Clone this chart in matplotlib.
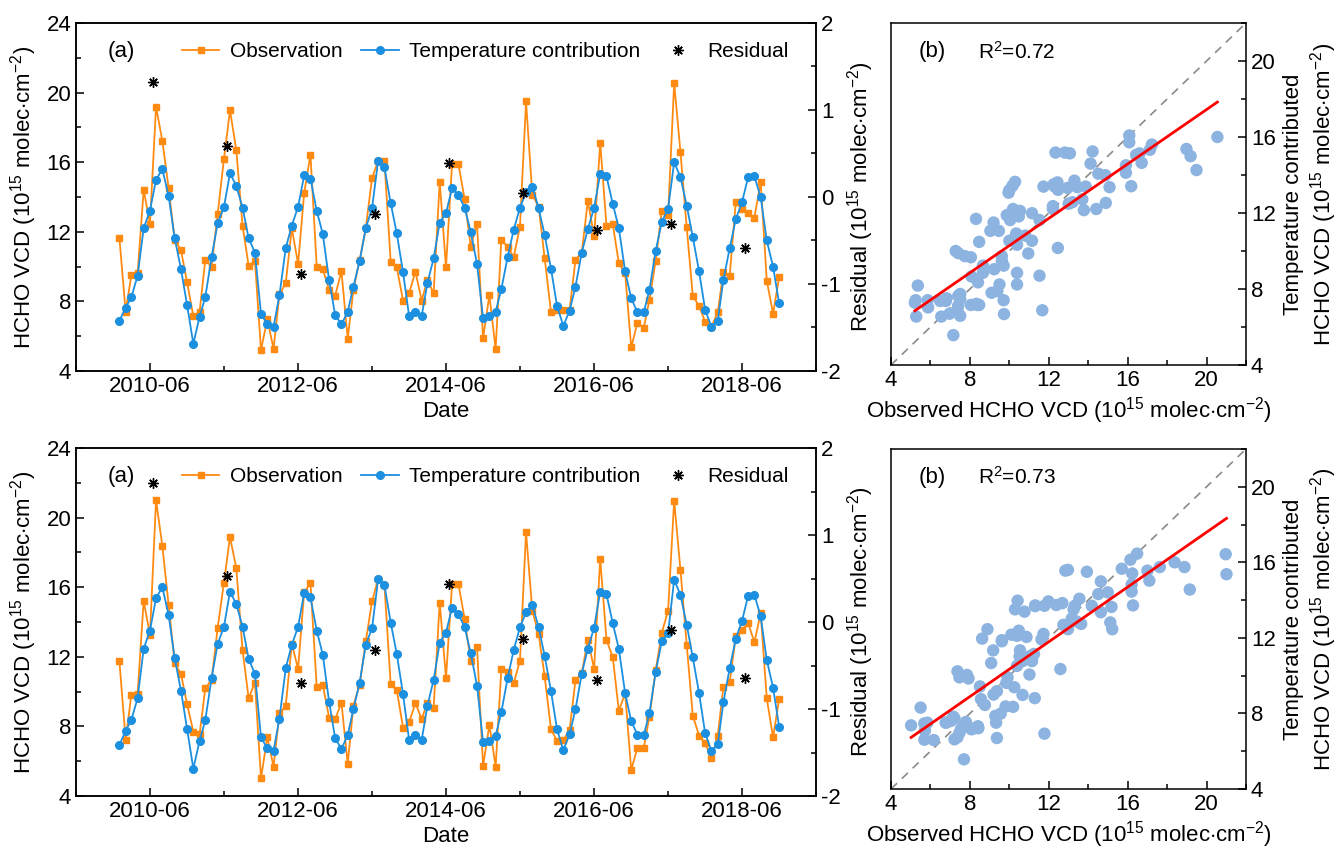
import numpy as np
import pandas as pd
import matplotlib
matplotlib.use('Agg')
import matplotlib.pyplot as plt
import matplotlib.dates as mdates
from matplotlib.ticker import MultipleLocator
from matplotlib.lines import Line2D

plt.rcParams['font.family'] = ['Liberation Sans', 'DejaVu Sans']
plt.rcParams['mathtext.fontset'] = 'custom'
plt.rcParams['mathtext.rm'] = 'Liberation Sans'
plt.rcParams['mathtext.it'] = 'Liberation Sans:italic'
plt.rcParams['axes.unicode_minus'] = False
plt.rcParams['font.size'] = 15
plt.rcParams['xtick.labelsize'] = 16
plt.rcParams['ytick.labelsize'] = 16
plt.rcParams['axes.labelsize'] = 16
plt.rcParams['axes.linewidth'] = 1.1

# monthly HCHO VCD, 2010-01 .. 2018-12 (10^15 molec/cm2)
months = pd.date_range('2010-01-01', periods=108, freq='MS')
res_dates = pd.to_datetime(['%d-06-15' % y for y in range(2010, 2019)])

obs_top = [11.67, 7.41, 9.50, 9.62, 14.41, 12.47, 19.19, 17.23, 14.51, 11.53, 10.96, 9.10,
           7.16, 7.41, 10.39, 10.00, 13.01, 16.18, 18.98, 16.71, 12.36, 10.04, 10.33, 5.21,
           6.97, 5.28, 8.41, 9.04, 12.21, 10.16, 14.22, 16.43, 10.00, 9.87, 8.66, 8.33,
           9.73, 5.86, 8.66, 10.39, 12.21, 15.08, 16.08, 16.08, 10.29, 9.96, 8.05, 8.47,
           9.71, 8.05, 9.23, 8.47, 14.89, 9.96, 15.91, 15.91, 13.87, 11.15, 12.46, 5.88,
           8.37, 5.25, 11.53, 11.15, 10.54, 12.30, 19.49, 14.12, 13.45, 10.48, 7.41, 7.51,
           7.51, 7.51, 10.39, 10.81, 13.78, 11.73, 17.13, 12.34, 12.44, 10.19, 9.62, 5.36,
           6.78, 6.49, 8.08, 10.35, 13.20, 12.95, 20.55, 16.60, 12.25, 8.31, 7.74, 6.82,
           6.55, 7.37, 9.71, 9.47, 13.70, 13.30, 13.07, 12.82, 14.87, 9.20, 7.28, 9.39]
temp_top = [6.88, 7.64, 8.24, 9.47, 12.21, 13.22, 14.99, 15.60, 14.07, 11.63, 9.87, 7.80,
            5.57, 7.13, 8.24, 10.54, 12.49, 13.41, 15.37, 14.64, 13.39, 11.63, 10.81, 7.28,
            6.70, 6.55, 8.35, 11.06, 12.36, 13.43, 15.24, 15.06, 13.20, 11.88, 9.23, 7.22,
            6.68, 7.41, 8.85, 10.33, 12.21, 13.36, 16.08, 15.72, 13.64, 11.92, 9.67, 7.16,
            7.41, 7.16, 9.04, 10.48, 12.53, 13.07, 14.51, 14.12, 13.39, 11.99, 10.16, 7.03,
            7.16, 7.41, 8.70, 10.54, 12.11, 13.39, 14.26, 14.60, 13.36, 11.82, 9.89, 7.74,
            6.59, 7.47, 8.85, 10.81, 12.15, 13.39, 15.33, 15.18, 13.61, 12.21, 9.73, 8.18,
            7.37, 7.37, 8.66, 10.92, 12.57, 13.32, 16.00, 15.14, 13.51, 11.69, 9.73, 7.51,
            6.55, 6.89, 9.23, 11.06, 12.72, 13.70, 15.14, 15.18, 13.99, 11.50, 10.00, 7.89]
res_top = [1.32, 0.59, -0.89, -0.20, 0.39, 0.05, -0.38, -0.31, -0.59]

obs_bot = [11.78, 7.22, 9.81, 9.85, 15.22, 13.26, 21.01, 18.38, 14.99, 11.63, 11.02, 9.29,
           7.70, 7.55, 10.19, 10.67, 13.64, 16.27, 18.88, 17.10, 12.38, 9.62, 10.52, 5.02,
           7.37, 5.69, 8.76, 9.18, 12.74, 11.31, 15.70, 16.23, 10.29, 10.39, 8.51, 8.41,
           9.37, 5.84, 9.20, 10.39, 12.88, 15.18, 16.48, 16.14, 10.42, 10.10, 7.93, 8.24,
           9.33, 8.43, 9.37, 9.08, 15.12, 10.77, 16.20, 16.20, 14.18, 11.73, 12.59, 5.72,
           8.08, 5.69, 11.29, 11.15, 10.48, 11.78, 19.15, 14.64, 13.32, 10.87, 7.85, 7.16,
           7.22, 7.80, 10.67, 11.06, 12.97, 11.31, 17.63, 12.97, 11.98, 8.89, 9.91, 5.50,
           6.78, 6.78, 8.56, 11.25, 13.39, 14.64, 20.97, 17.00, 12.69, 8.62, 7.47, 7.03,
           6.17, 7.47, 10.25, 10.54, 13.17, 13.55, 13.93, 12.84, 14.51, 9.62, 7.37, 9.56]
temp_bot = [6.93, 7.74, 8.37, 9.62, 12.46, 13.51, 15.37, 16.00, 14.41, 11.92, 10.06, 7.87,
            5.57, 7.18, 8.35, 10.77, 12.74, 13.72, 15.75, 15.03, 13.74, 11.88, 11.02, 7.37,
            6.74, 6.61, 8.45, 11.34, 12.69, 13.72, 15.66, 15.41, 13.51, 12.11, 9.43, 7.32,
            6.70, 7.51, 9.00, 10.52, 12.69, 13.64, 16.46, 16.14, 13.97, 12.17, 9.85, 7.22,
            7.51, 7.22, 9.18, 10.67, 12.82, 13.39, 14.83, 14.45, 13.70, 12.21, 10.35, 7.09,
            7.16, 7.47, 8.81, 10.77, 12.38, 13.70, 14.56, 14.99, 13.70, 12.05, 10.04, 7.83,
            6.63, 7.55, 8.98, 11.04, 12.46, 13.68, 15.75, 15.60, 13.93, 12.46, 9.91, 8.31,
            7.51, 7.51, 8.76, 11.15, 12.88, 13.36, 16.43, 15.56, 13.84, 11.96, 9.91, 7.60,
            6.59, 6.97, 9.39, 11.34, 13.03, 14.07, 15.50, 15.56, 14.32, 11.82, 10.23, 7.99]
res_bot = [1.60, 0.53, -0.70, -0.32, 0.44, -0.19, -0.67, -0.09, -0.64]

r2_labels = ['0.72', '0.73']

c_obs = '#FF8A12'
c_temp = '#1B8FE0'
c_pts = '#8DB4E0'
star = (8, 2, 0)
unit = '(10$^{15}$ molec$\\cdot$cm$^{-2}$)'

fig = plt.figure(figsize=(13.41, 8.55), dpi=100)


def time_panel(pos, obs, temp, res):
    ax = fig.add_axes(pos)
    ax.plot(months, obs, '-s', color=c_obs, lw=1.3, ms=5, zorder=2)
    ax.plot(months, temp, '-o', color=c_temp, lw=1.3, ms=5.5, zorder=3)
    ax.set_xlim(pd.Timestamp('2009-06-01'), pd.Timestamp('2019-06-01'))
    ax.set_ylim(4, 24)
    ax.yaxis.set_major_locator(MultipleLocator(4))
    ax.yaxis.set_minor_locator(MultipleLocator(2))
    ax.xaxis.set_major_locator(mdates.YearLocator(2, month=6, day=1))
    ax.xaxis.set_minor_locator(mdates.YearLocator(1, month=6, day=1))
    ax.xaxis.set_major_formatter(mdates.DateFormatter('%Y-%m'))
    ax.tick_params(which='both', direction='in', width=1.1, top=False, right=False)
    ax.tick_params(which='major', length=6)
    ax.tick_params(which='minor', length=3.5)
    ax.set_ylabel('HCHO VCD ' + unit, labelpad=5)
    ax.set_xlabel('Date', labelpad=3)

    ax2 = ax.twinx()
    ax2.plot(res_dates, res, ls='none', marker=star, color='black', ms=7.5, mew=1.0, zorder=4)
    ax2.set_ylim(-2, 2)
    ax2.yaxis.set_major_locator(MultipleLocator(1))
    ax2.yaxis.set_minor_locator(MultipleLocator(0.5))
    ax2.tick_params(which='both', direction='in', width=1.1)
    ax2.tick_params(which='major', length=6)
    ax2.tick_params(which='minor', length=3.5)
    ax2.set_ylabel('Residual ' + unit, labelpad=3)

    ax.text(0.043, 0.917, '(a)', transform=ax.transAxes, ha='left', va='center', fontsize=16)
    handles = [Line2D([], [], color=c_obs, marker='s', lw=1.3, ms=5),
               Line2D([], [], color=c_temp, marker='o', lw=1.3, ms=5.5),
               Line2D([], [], color='black', marker=star, ls='none', ms=7.5, mew=1.0)]
    ax2.legend(handles, ['Observation', 'Temperature contribution', 'Residual'],
               loc='center left', bbox_to_anchor=(0.143, 0.917), ncol=3, frameon=False,
               borderpad=0, borderaxespad=0, handlelength=1.8, handletextpad=0.5,
               columnspacing=0.9, fontsize=15)


def scatter_panel(pos, obs, temp, r2):
    ax = fig.add_axes(pos)
    ax.plot([4, 22], [4, 22], color='#8a8a8a', lw=1.2, dashes=(5, 4), zorder=1)
    ax.scatter(obs, temp, s=80, color=c_pts, edgecolors='none', zorder=2)
    k, b = np.polyfit(obs, temp, 1)
    xs = np.array([min(obs), max(obs)])
    ax.plot(xs, k * xs + b, color='red', lw=2, zorder=3)
    ax.set_xlim(4, 22)
    ax.set_ylim(4, 22)
    for axis in (ax.xaxis, ax.yaxis):
        axis.set_major_locator(MultipleLocator(4))
        axis.set_minor_locator(MultipleLocator(2))
    ax.yaxis.tick_right()
    ax.yaxis.set_label_position('right')
    ax.tick_params(which='both', direction='in', width=1.1, left=False, top=False,
                   right=True, bottom=True)
    ax.tick_params(which='major', length=6)
    ax.tick_params(which='minor', length=3.5)
    ax.set_xlabel('Observed HCHO VCD ' + unit, labelpad=3)
    ax.set_ylabel('Temperature contributed\nHCHO VCD ' + unit, labelpad=5)
    ax.text(0.079, 0.917, '(b)', transform=ax.transAxes, ha='left', va='center', fontsize=16)
    ax.text(0.245, 0.917, 'R$^2$=' + r2, transform=ax.transAxes, ha='left', va='center')


time_panel([76 / 1341, 1 - 371 / 855, 740 / 1341, 348 / 855], obs_top, temp_top, res_top)
scatter_panel([891 / 1341, 1 - 365 / 855, 355 / 1341, 342 / 855], obs_top, temp_top, r2_labels[0])
time_panel([76 / 1341, 1 - 796 / 855, 740 / 1341, 348 / 855], obs_bot, temp_bot, res_bot)
scatter_panel([891 / 1341, 1 - 789 / 855, 355 / 1341, 340 / 855], obs_bot, temp_bot, r2_labels[1])

fig.savefig('out.png', dpi=100, facecolor='white')
